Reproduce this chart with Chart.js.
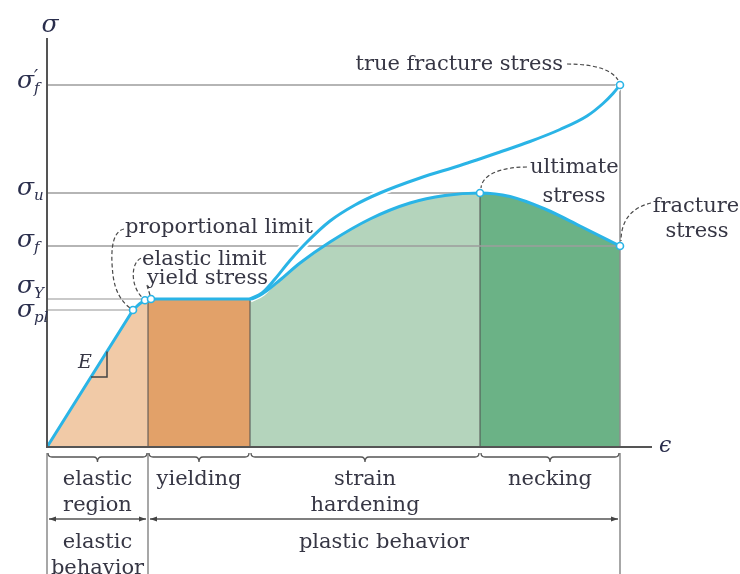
<!DOCTYPE html>
<html>
<head>
<meta charset="utf-8">
<title>Stress–strain diagram</title>
<script src="https://cdn.jsdelivr.net/npm/chart.js@4"></script>
<style>
  html, body { margin: 0; padding: 0; background: #fff; }
  canvas { display: block; }
</style>
</head>
<body>
<canvas id="diagram" width="740" height="574"></canvas>
<script>
// engineering stress-strain curve (arbitrary units)
const strainEng = [0, 8.6, 9.3, 9.8, 10.1, 10.4, 20.3, 21.8, 23.3, 25.3, 28.3, 32.3, 36.3, 39.8, 43.3, 46.3, 49.8, 53.3, 57.3];
const stressEng = [0, 13.7, 14.35, 14.67, 14.75, 14.8, 14.8, 15.5, 16.7, 18.4, 20.5, 22.8, 24.4, 25.15, 25.4, 25.05, 23.8, 22.1, 20.1];

// true stress-strain curve, leaves the engineering curve at the end of yielding
const strainTrue = [20.3, 21.5, 22.8, 24.3, 26.0, 28.3, 30.8, 33.3, 37.3, 41.3, 45.3, 48.3, 51.3, 54.0, 55.6, 56.6, 57.3];
const stressTrue = [14.8, 15.4, 16.8, 18.65, 20.5, 22.6, 24.2, 25.4, 26.9, 28.15, 29.5, 30.55, 31.75, 33.1, 34.35, 35.35, 36.2];

// marked points: proportional limit, elastic limit, yield stress, ultimate, fracture, true fracture
const keyStrain = [8.6, 9.8, 10.4, 43.3, 57.3, 57.3];
const keyStress = [13.7, 14.67, 14.8, 25.4, 20.1, 36.2];

// stress axis labels (sigma + subscript) and the point each one refers to
const tickSub = ['f', 'u', 'f', 'Y', 'pl'];
const tickPrime = [true, false, false, false, false];
const tickKey = [5, 3, 4, 2, 0];

// regions along the strain axis
const regionBounds = [0, 10.1, 20.3, 43.3, 57.3];
const regionLabels = [['elastic', 'region'], ['yielding'], ['strain', 'hardening'], ['necking']];
const behaviorBounds = [0, 10.1, 57.3];
const behaviorLabels = [['elastic', 'behavior'], ['plastic behavior']];

const regionColors = ['#f1caa7', '#e2a169', '#b4d4bc', '#6bb286'];
const BLUE = '#2ab4e6';
const INK = '#363644';
const SERIF = '"DejaVu Serif", "Liberation Serif", serif';

const xy = (xs, ys) => xs.map((x, i) => ({ x: x, y: ys[i] }));
const engPts = xy(strainEng, stressEng);
const truePts = xy(strainTrue, stressTrue);
const keyPts = xy(keyStrain, keyStress);

const elasticEnd = regionBounds[1];
const elasticPts = engPts.filter(p => p.x <= elasticEnd);
const plasticPts = engPts.filter(p => p.x >= elasticEnd);
const linearPts = engPts.filter(p => p.x <= keyStrain[0]);
const curvedPts = engPts.filter(p => p.x >= keyStrain[0]);

function regionOf(v) {
  let i = 0;
  while (i < regionBounds.length - 2 && v >= regionBounds[i + 1]) i++;
  return i;
}

function guide(points, color, width, order) {
  return { data: points, borderColor: color, borderWidth: width, pointRadius: 0, tension: 0, fill: false, order: order };
}

const datasets = [];

// area under the curve, one colour per region
datasets.push({
  data: elasticPts, fill: 'origin', backgroundColor: regionColors[0],
  borderWidth: 0, pointRadius: 0, tension: 0, order: 30
});
datasets.push({
  data: plasticPts, fill: 'origin', backgroundColor: regionColors[1],
  borderWidth: 0, pointRadius: 0, cubicInterpolationMode: 'monotone', order: 30,
  segment: { backgroundColor: c => regionColors[regionOf(plasticPts[c.p0DataIndex].x)] }
});

// horizontal guide lines from the stress axis to each marked point
tickKey.forEach(k => {
  const light = k <= 2;
  datasets.push(guide([{ x: 0, y: keyStress[k] }, { x: keyStrain[k], y: keyStress[k] }],
    light ? '#c9c9c9' : '#9d9d9d', light ? 2 : 1.5, 20));
});

// region dividers under the curve
regionBounds.slice(1, 4).forEach(b => {
  const top = stressEng[strainEng.indexOf(b)];
  datasets.push(guide([{ x: b, y: 0 }, { x: b, y: top }], '#4e4e4e', 1, 20));
});
datasets.push(guide([{ x: keyStrain[5], y: 0 }, { x: keyStrain[5], y: keyStress[5] }], '#8e8e8e', 1.5, 20));

// white halo so the true curve cuts through the guide lines
datasets.push({
  data: truePts, borderColor: '#ffffff', borderWidth: 7, pointRadius: 0,
  cubicInterpolationMode: 'monotone', fill: false, order: 10
});

// engineering curve
datasets.push({
  data: linearPts, borderColor: BLUE, borderWidth: 3, pointRadius: 0, tension: 0,
  borderCapStyle: 'round', fill: false, order: 5
});
datasets.push({
  data: curvedPts, borderColor: BLUE, borderWidth: 3, pointRadius: 0,
  cubicInterpolationMode: 'monotone', borderCapStyle: 'round', fill: false, order: 5
});

// true curve
datasets.push({
  data: truePts, borderColor: BLUE, borderWidth: 3, pointRadius: 0,
  cubicInterpolationMode: 'monotone', borderCapStyle: 'round', fill: false, order: 4
});

// marked points
datasets.push({
  data: keyPts, showLine: false, pointRadius: 3.5, pointBackgroundColor: '#ffffff',
  pointBorderColor: BLUE, pointBorderWidth: 1.6, order: 0
});

const decorations = {
  id: 'decorations',
  afterDraw(chart) {
    const { ctx, scales: { x, y } } = chart;
    const px = v => x.getPixelForValue(v);
    const py = v => y.getPixelForValue(v);
    const x0 = px(0), y0 = py(0);
    const H = chart.height;
    const mark = i => ({ x: px(keyStrain[i]), y: py(keyStress[i]) });

    ctx.save();

    // axes
    ctx.strokeStyle = '#555';
    ctx.lineWidth = 2;
    ctx.beginPath();
    ctx.moveTo(x0, py(y.max));
    ctx.lineTo(x0, y0);
    ctx.lineTo(px(x.max), y0);
    ctx.stroke();

    ctx.fillStyle = '#2a2e4c';
    ctx.font = 'italic 25px ' + SERIF;
    ctx.textAlign = 'center';
    ctx.textBaseline = 'alphabetic';
    ctx.fillText('σ', x0 + 3, 32);
    ctx.font = 'italic 22px ' + SERIF;
    ctx.textAlign = 'left';
    ctx.fillText('ϵ', px(x.max) + 7, y0 + 5);

    // stress labels
    const shift = [3, 2, 1, -6, 7];
    tickKey.forEach((k, i) => {
      const base = py(keyStress[k]) + shift[i];
      ctx.font = 'italic 25px ' + SERIF;
      ctx.textAlign = 'right';
      ctx.fillText('σ', 34, base);
      ctx.font = 'italic 15px ' + SERIF;
      ctx.textAlign = 'left';
      ctx.fillText(tickSub[i], 34, base + 5);
      if (tickPrime[i]) {
        ctx.font = 'italic 18px ' + SERIF;
        ctx.fillText('′', 34, base - 5);
      }
    });

    // E with its slope triangle
    const slope = keyStress[0] / keyStrain[0];
    ctx.font = 'italic 19px ' + SERIF;
    ctx.fillStyle = INK;
    ctx.fillText('E', 78, 368);
    ctx.strokeStyle = '#444';
    ctx.lineWidth = 1.5;
    ctx.beginPath();
    ctx.moveTo(px(6), py(6 * slope));
    ctx.lineTo(px(6), py(7));
    ctx.lineTo(px(7 / slope), py(7));
    ctx.stroke();

    // lines dropping below the axis
    ctx.strokeStyle = '#8a8a8a';
    ctx.lineWidth = 1.5;
    behaviorBounds.forEach(b => {
      ctx.beginPath();
      ctx.moveTo(px(b), y0 + 6);
      ctx.lineTo(px(b), H);
      ctx.stroke();
    });

    // braces under each region
    ctx.strokeStyle = '#555';
    ctx.lineWidth = 1.3;
    for (let i = 0; i < regionBounds.length - 1; i++) {
      const a = px(regionBounds[i]), b = px(regionBounds[i + 1]);
      const mid = (a + b) / 2, top = y0 + 6, ym = y0 + 10, tip = y0 + 15;
      ctx.beginPath();
      ctx.moveTo(a + 1, top);
      ctx.quadraticCurveTo(a + 1, ym, a + 5, ym);
      ctx.lineTo(mid - 4, ym);
      ctx.quadraticCurveTo(mid, ym, mid, tip);
      ctx.quadraticCurveTo(mid, ym, mid + 4, ym);
      ctx.lineTo(b - 5, ym);
      ctx.quadraticCurveTo(b - 1, ym, b - 1, top);
      ctx.stroke();
    }

    // double arrows for elastic / plastic behaviour
    const ay = y0 + 72;
    ctx.fillStyle = '#444';
    for (let i = 0; i < behaviorBounds.length - 1; i++) {
      const a = px(behaviorBounds[i]) + 2, b = px(behaviorBounds[i + 1]) - 2;
      ctx.beginPath();
      ctx.moveTo(a, ay);
      ctx.lineTo(b, ay);
      ctx.stroke();
      [[a, 1], [b, -1]].forEach(([p, d]) => {
        ctx.beginPath();
        ctx.moveTo(p, ay);
        ctx.lineTo(p + d * 7, ay - 2.5);
        ctx.lineTo(p + d * 7, ay + 2.5);
        ctx.closePath();
        ctx.fill();
      });
    }

    // region and behaviour names
    ctx.fillStyle = INK;
    ctx.font = '21px ' + SERIF;
    ctx.textAlign = 'center';
    regionLabels.forEach((lines, i) => {
      const cx = (px(regionBounds[i]) + px(regionBounds[i + 1])) / 2;
      lines.forEach((t, j) => ctx.fillText(t, cx, y0 + 38 + j * 26));
    });
    behaviorLabels.forEach((lines, i) => {
      const cx = (px(behaviorBounds[i]) + px(behaviorBounds[i + 1])) / 2;
      lines.forEach((t, j) => ctx.fillText(t, cx, y0 + 101 + j * 26));
    });

    // point annotations
    const prop = mark(0), elast = mark(1), yld = mark(2), ult = mark(3), frac = mark(4), tfrac = mark(5);
    ctx.textAlign = 'right';
    ctx.fillText('true fracture stress', tfrac.x - 57, tfrac.y - 15);
    ctx.textAlign = 'left';
    ctx.fillText('ultimate', ult.x + 50, ult.y - 20);
    ctx.fillText('proportional limit', prop.x - 8, prop.y - 77);
    ctx.fillText('elastic limit', elast.x - 3, elast.y - 35);
    ctx.fillText('yield stress', yld.x - 4, yld.y - 15);
    ctx.textAlign = 'center';
    ctx.fillText('stress', ult.x + 94, ult.y + 9);
    ctx.fillText('fracture', frac.x + 76, frac.y - 34);
    ctx.fillText('stress', frac.x + 77, frac.y - 9);

    // dashed leaders
    ctx.strokeStyle = '#4a4a4a';
    ctx.lineWidth = 1.2;
    ctx.setLineDash([4, 2.5]);
    const leader = (...pts) => {
      ctx.beginPath();
      ctx.moveTo(pts[0], pts[1]);
      for (let i = 2; i < pts.length; i += 6) {
        ctx.bezierCurveTo(pts[i], pts[i + 1], pts[i + 2], pts[i + 3], pts[i + 4], pts[i + 5]);
      }
      ctx.stroke();
    };
    leader(tfrac.x - 53, tfrac.y - 21, tfrac.x - 25, tfrac.y - 21, tfrac.x - 8, tfrac.y - 15, tfrac.x - 2, tfrac.y - 5);
    leader(ult.x + 47, ult.y - 26, ult.x + 20, ult.y - 26, ult.x + 2, ult.y - 18, ult.x + 1, ult.y - 5);
    leader(frac.x + 31, frac.y - 43, frac.x + 10, frac.y - 38, frac.x + 1, frac.y - 24, frac.x + 1, frac.y - 5);
    leader(prop.x - 9, prop.y - 81, prop.x - 23, prop.y - 78, prop.x - 22, prop.y - 52, prop.x - 20, prop.y - 35,
           prop.x - 18, prop.y - 18, prop.x - 11, prop.y - 8, prop.x - 3, prop.y - 2);
    leader(elast.x - 4, elast.y - 42, elast.x - 14, elast.y - 38, elast.x - 15, elast.y - 15, elast.x - 3, elast.y - 3);
    leader(yld.x - 4, yld.y - 14, yld.x - 3, yld.y - 10, yld.x - 2, yld.y - 7, yld.x - 1, yld.y - 4);
    ctx.setLineDash([]);

    ctx.restore();
  }
};

new Chart(document.getElementById('diagram'), {
  type: 'line',
  data: { datasets: datasets },
  options: {
    responsive: false,
    animation: false,
    devicePixelRatio: 1,
    events: [],
    layout: { padding: { left: 47, right: 88, top: 38, bottom: 127 } },
    scales: {
      x: { type: 'linear', min: 0, max: 60.5, display: false },
      y: { type: 'linear', min: 0, max: 40.9, display: false }
    },
    plugins: { legend: { display: false }, tooltip: { enabled: false } }
  },
  plugins: [decorations]
});
</script>
</body>
</html>
